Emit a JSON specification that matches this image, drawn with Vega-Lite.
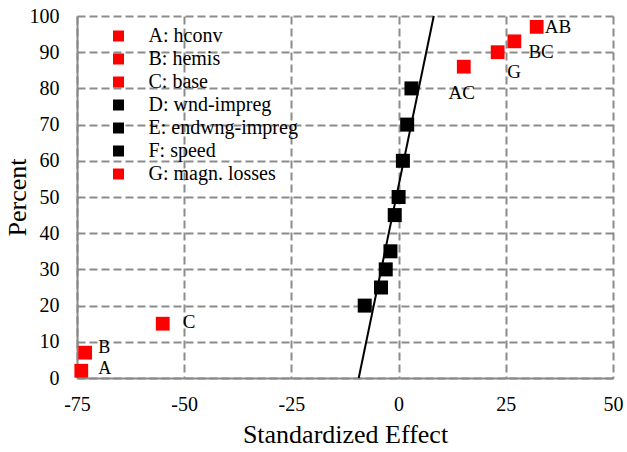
{
  "$schema": "https://vega.github.io/schema/vega-lite/v6.json",
  "width": 536,
  "height": 362,
  "autosize": {"type": "none"},
  "padding": {"left": 77, "top": 16, "right": 14, "bottom": 74},
  "config": {
    "view": {"stroke": null},
    "font": "'Liberation Serif', 'Times New Roman', 'DejaVu Serif', serif",
    "text": {"font": "'Liberation Serif', 'Times New Roman', 'DejaVu Serif', serif"},
    "axis": {
      "ticks": false,
      "labelFont": "'Liberation Serif', 'Times New Roman', 'DejaVu Serif', serif",
      "titleFont": "'Liberation Serif', 'Times New Roman', 'DejaVu Serif', serif",
      "labelFlush": false,
      "labelColor": "black",
      "labelFontSize": 20,
      "titleColor": "black",
      "titleFontSize": 26,
      "titleFontWeight": "normal",
      "domainColor": "#898989",
      "domainWidth": 2,
      "gridColor": "#8c8c8c",
      "gridWidth": 2,
      "gridDash": [8, 4]
    },
    "legend": {
      "orient": "none",
      "legendX": 31.5,
      "legendY": 10,
      "padding": 0,
      "labelFont": "'Liberation Serif', 'Times New Roman', 'DejaVu Serif', serif",
      "labelFontSize": 20,
      "labelColor": "black",
      "labelOffset": 20,
      "rowPadding": 3,
      "symbolType": "square",
      "symbolSize": 121,
      "symbolStrokeWidth": 0,
      "symbolOpacity": 1
    }
  },
  "datasets": {
    "effects": [
      {"effect": -74, "percent": 2, "label": "A", "significant": true},
      {"effect": -73.1, "percent": 7, "label": "B", "significant": true},
      {"effect": -55, "percent": 15, "label": "C", "significant": true},
      {"effect": -7.9, "percent": 20, "label": null, "significant": false},
      {"effect": -4.1, "percent": 25, "label": null, "significant": false},
      {"effect": -3, "percent": 30, "label": null, "significant": false},
      {"effect": -1.9, "percent": 35, "label": null, "significant": false},
      {"effect": -0.9, "percent": 45, "label": null, "significant": false},
      {"effect": 0, "percent": 50, "label": null, "significant": false},
      {"effect": 1, "percent": 60, "label": null, "significant": false},
      {"effect": 2, "percent": 70, "label": null, "significant": false},
      {"effect": 3, "percent": 80, "label": null, "significant": false},
      {"effect": 15.2, "percent": 86, "label": "AC", "significant": true},
      {"effect": 23.1, "percent": 90, "label": "G", "significant": true},
      {"effect": 27, "percent": 93, "label": "BC", "significant": true},
      {"effect": 32.2, "percent": 97, "label": "AB", "significant": true}
    ],
    "fit": [
      {"effect": -9.3, "percent": 0},
      {"effect": 8.2, "percent": 100}
    ],
    "factors": [
      {"factor": "A: hconv"},
      {"factor": "B: hemis"},
      {"factor": "C: base"},
      {"factor": "D: wnd-impreg"},
      {"factor": "E: endwng-impreg"},
      {"factor": "F: speed"},
      {"factor": "G: magn. losses"}
    ]
  },
  "encoding": {
    "x": {
      "field": "effect",
      "type": "quantitative",
      "scale": {"domain": [-75, 50], "nice": false, "zero": false},
      "axis": {
        "title": "Standardized Effect",
        "values": [-75, -50, -25, 0, 25, 50],
        "labelExpr": "'' + datum.value",
        "labelPadding": 16,
        "titlePadding": 7
      }
    },
    "y": {
      "field": "percent",
      "type": "quantitative",
      "scale": {"domain": [0, 100], "nice": false},
      "axis": {
        "title": "Percent",
        "values": [0, 10, 20, 30, 40, 50, 60, 70, 80, 90, 100],
        "labelPadding": 18,
        "titlePadding": -1
      }
    }
  },
  "layer": [
    {
      "data": {"name": "factors"},
      "mark": {"type": "square", "opacity": 0},
      "encoding": {
        "color": {
          "field": "factor",
          "type": "nominal",
          "scale": {
            "domain": ["A: hconv", "B: hemis", "C: base", "D: wnd-impreg", "E: endwng-impreg", "F: speed", "G: magn. losses"],
            "range": ["#ff0000", "#ff0000", "#ff0000", "#000000", "#000000", "#000000", "#ff0000"]
          },
          "legend": {"title": null}
        }
      }
    },
    {
      "data": {"name": "fit"},
      "mark": {"type": "line", "color": "black", "strokeWidth": 2},
      "encoding": {}
    },
    {
      "data": {"name": "effects"},
      "transform": [{"filter": "!datum.significant"}],
      "mark": {"type": "square", "size": 196, "opacity": 1, "color": "#000000"},
      "encoding": {}
    },
    {
      "data": {"name": "effects"},
      "transform": [{"filter": "datum.significant"}],
      "mark": {"type": "square", "size": 190, "opacity": 1, "color": "#ff0000"},
      "encoding": {}
    },
    {
      "data": {"name": "effects"},
      "transform": [{"filter": "datum.label === 'A'"}],
      "mark": {"type": "text", "align": "left", "baseline": "middle", "dx": 17, "dy": -2, "fontSize": 18, "color": "black"},
      "encoding": {"text": {"field": "label"}}
    },
    {
      "data": {"name": "effects"},
      "transform": [{"filter": "datum.label === 'B'"}],
      "mark": {"type": "text", "align": "left", "baseline": "middle", "dx": 13, "dy": -5, "fontSize": 18, "color": "black"},
      "encoding": {"text": {"field": "label"}}
    },
    {
      "data": {"name": "effects"},
      "transform": [{"filter": "datum.label === 'C'"}],
      "mark": {"type": "text", "align": "left", "baseline": "middle", "dx": 20, "dy": -2, "fontSize": 19, "color": "black"},
      "encoding": {"text": {"field": "label"}}
    },
    {
      "data": {"name": "effects"},
      "transform": [{"filter": "datum.label === 'AB'"}],
      "mark": {"type": "text", "align": "left", "baseline": "middle", "dx": 8, "dy": 0, "fontSize": 19, "color": "black"},
      "encoding": {"text": {"field": "label"}}
    },
    {
      "data": {"name": "effects"},
      "transform": [{"filter": "datum.label === 'BC'"}],
      "mark": {"type": "text", "align": "left", "baseline": "middle", "dx": 14, "dy": 11, "fontSize": 19, "color": "black"},
      "encoding": {"text": {"field": "label"}}
    },
    {
      "data": {"name": "effects"},
      "transform": [{"filter": "datum.label === 'G'"}],
      "mark": {"type": "text", "align": "center", "baseline": "middle", "dx": 16.5, "dy": 19.5, "fontSize": 19, "color": "black"},
      "encoding": {"text": {"field": "label"}}
    },
    {
      "data": {"name": "effects"},
      "transform": [{"filter": "datum.label === 'AC'"}],
      "mark": {"type": "text", "align": "center", "baseline": "middle", "dx": -2, "dy": 26, "fontSize": 19, "color": "black"},
      "encoding": {"text": {"field": "label"}}
    }
  ]
}
